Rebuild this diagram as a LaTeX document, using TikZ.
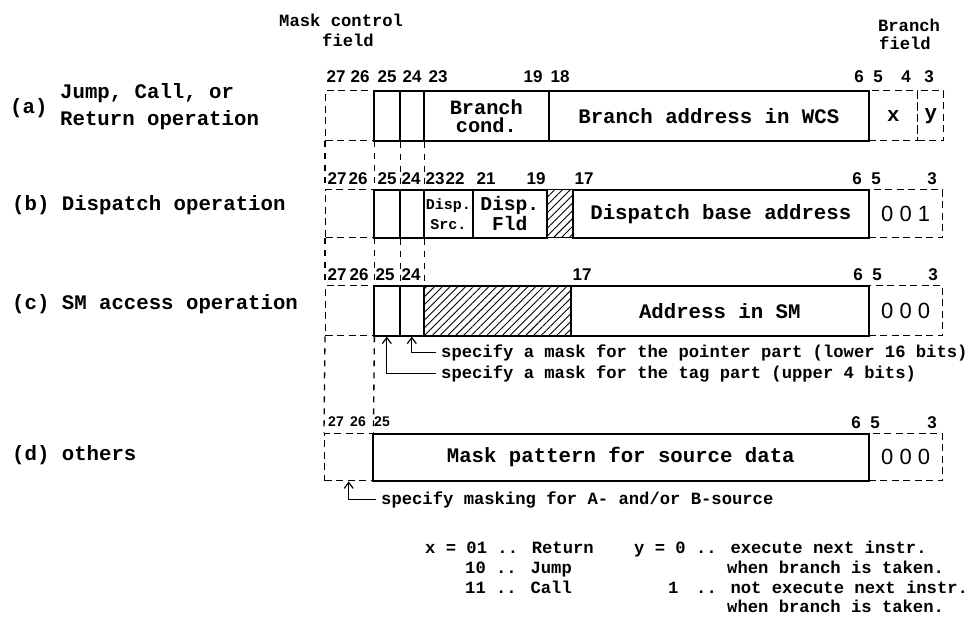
\documentclass[tikz,border=0pt]{standalone}
\usepackage{fontspec}
\setmainfont{Liberation Mono}
\newfontfamily\bitfont{Liberation Sans}
\usetikzlibrary{arrows.meta,patterns.meta}

% one field of an instruction word: name, style, left, right, top, bottom, text
\newcommand\fieldbox[7]{%
  \node[#2, minimum width={#4-#3}, minimum height={#6-#5}, anchor=north west] (#1) at (#3,#5) {#7};}

\tikzset{
  solidbox/.style={draw, line width=1.6pt, inner sep=0pt, align=center,
    font=\bfseries\fontsize{20.7}{22}\selectfont},
  dashbox/.style={draw, line width=1.4pt, dash pattern=on 7pt off 4.5pt, inner sep=0pt,
    align=center, font=\bfseries\fontsize{20.7}{22}\selectfont},
  hatchbox/.style={solidbox, pattern={Lines[angle=45,distance=5.5pt,line width=0.9pt]}},
  codebox/.style={dashbox, font=\bitfont\fontsize{22}{22}\selectfont},
  bit/.style={font=\bitfont\bfseries\fontsize{17}{17}\selectfont, inner sep=0pt},
  smallbit/.style={font=\bitfont\bfseries\fontsize{14}{14}\selectfont, inner sep=0pt},
  oplabel/.style={font=\bfseries\fontsize{20.7}{22}\selectfont, inner sep=0pt, anchor=base west},
  note/.style={font=\bfseries\fontsize{17.2}{20}\selectfont, inner sep=0pt, anchor=base west},
  guide/.style={line width=1.3pt, dash pattern=on 6pt off 6pt},
  pointer/.style={line width=1.2pt, shorten <=5pt, -{Straight Barb[length=6pt,width=9pt]}},
}

\begin{document}
\begin{tikzpicture}[x=1pt,y=-1pt]
\path[use as bounding box] (0,0) rectangle (974,620);

% headings
\node[note] (hmask) at (279,27) {Mask control};
\node[note] (hmaskb) at (322,47) {field};
\node[note, anchor=base] (hbranch) at (909,32) {Branch};
\node[note, anchor=base] (hbranchb) at (905,50) {field};

% operation names
\node[oplabel] (opa) at (10,114) {(a)};
\node[oplabel] (opajump) at (60,99) {Jump, Call, or};
\node[oplabel] (oparet) at (60,126) {Return operation};
\node[oplabel] (opb) at (12,211) {(b) Dispatch operation};
\node[oplabel] (opc) at (12,309) {(c) SM access operation};
\node[oplabel] (opd) at (12,460) {(d) others};

% (a) jump, call, return
\fieldbox{ma}{dashbox}{325}{373}{90}{140}{}
\fieldbox{ax}{dashbox}{868}{917}{90}{140}{x}
\fieldbox{ay}{dashbox}{917}{943}{90}{140}{y}
\fieldbox{a25}{solidbox}{373}{399}{90}{140}{}
\fieldbox{a24}{solidbox}{399}{423}{90}{140}{}
\fieldbox{acond}{solidbox, font=\bfseries\fontsize{20.3}{18}\selectfont}{423}{548}{90}{140}{Branch\\cond.}
\fieldbox{aaddr}{solidbox}{548}{868}{90}{140}{Branch address in WCS}
\foreach \n/\x in {27/336,26/360,25/387,24/412,23/438,19/533,18/560,6/859,5/878,4/906,3/929}
  \node[bit] (la\n) at (\x,77) {\n};

% (b) dispatch
\fieldbox{mb}{dashbox}{325}{373}{189}{237}{}
\fieldbox{bcode}{codebox}{868}{942}{189}{237}{0 0 1}
\fieldbox{b25}{solidbox}{373}{399}{189}{237}{}
\fieldbox{b24}{solidbox}{399}{423}{189}{237}{}
\fieldbox{bsrc}{solidbox, font=\bfseries\fontsize{15}{20}\selectfont}{423}{472}{189}{237}{Disp.\\Src.}
\fieldbox{bfld}{solidbox, font=\bfseries\fontsize{19.6}{20}\selectfont}{472}{546}{189}{237}{Disp.\\Fld}
\fieldbox{bhatch}{hatchbox}{546}{572}{189}{237}{}
\fieldbox{baddr}{solidbox}{572}{868}{189}{237}{Dispatch base address}
\foreach \n/\x in {27/337,26/358,25/387,24/411,23/435,22/455,21/486,19/536,17/584,6/857,5/876,3/932}
  \node[bit] (lb\n) at (\x,179) {\n};

% (c) SM access
\fieldbox{mc}{dashbox}{325}{373}{285}{335}{}
\fieldbox{ccode}{codebox}{868}{942}{285}{335}{0 0 0}
\fieldbox{c25}{solidbox}{373}{399}{285}{335}{}
\fieldbox{c24}{solidbox}{399}{423}{285}{335}{}
\fieldbox{chatch}{hatchbox}{423}{570}{285}{335}{}
\fieldbox{caddr}{solidbox}{570}{868}{285}{335}{Address in SM}
\foreach \n/\x in {27/337,26/359,25/385,24/411,17/582,6/858,5/877,3/933}
  \node[bit] (lc\n) at (\x,275) {\n};

% (d) others
\fieldbox{md}{dashbox}{324}{372}{433}{480}{}
\fieldbox{dcode}{codebox}{868}{942}{433}{480}{0 0 0}
\fieldbox{dmask}{solidbox}{372}{868}{433}{480}{Mask pattern for source data}
\foreach \n/\x in {27/336,26/358,25/382}
  \node[smallbit] (ld\n) at (\x,422) {\n};
\foreach \n/\x in {6/856,5/875,3/932}
  \node[bit] (ld\n) at (\x,423) {\n};

% column guides between the words
\draw[guide] (ma.south west) -- (mb.north west);
\draw[guide] (ma.south east) -- (mb.north east);
\draw[guide] (a25.south east) -- (b25.north east);
\draw[guide] (a24.south east) -- (b24.north east);
\draw[guide] (mb.south west) -- (mc.north west);
\draw[guide] (mb.south east) -- (mc.north east);
\draw[guide] (b25.south east) -- (c25.north east);
\draw[guide] (b24.south east) -- (c24.north east);
\draw[guide] (mc.south west) -- (md.north west);
\draw[guide] (mc.south east) -- (md.north east);

% mask notes
\node[note] (ptrnote) at (441,357) {specify a mask for the pointer part (lower 16 bits)};
\node[note] (tagnote) at (441,378) {specify a mask for the tag part (upper 4 bits)};
\node[note] (srcnote) at (381,504) {specify masking for A- and/or B-source};
\draw[pointer] (ptrnote.west) -| (c24.south);
\draw[pointer] (tagnote.west) -| (c25.south);
\draw[pointer] (srcnote.west) -| (md.south);

% branch field codes
\node[note] (xret) at (425,553) {x = 01 .. Return};
\node[note] (xjump) at (465,573) {10 .. Jump};
\node[note] (xcall) at (465,593) {11 .. Call};
\node[note] (yzero) at (634,553) {y = 0 .. execute next instr.};
\node[note] (yzerob) at (727,573) {when branch is taken.};
\node[note] (yone) at (668,593) {1};
\node[note] (yonetxt) at (696,593) {.. not execute next instr.};
\node[note] (yoneb) at (727,612) {when branch is taken.};
\end{tikzpicture}
\end{document}
